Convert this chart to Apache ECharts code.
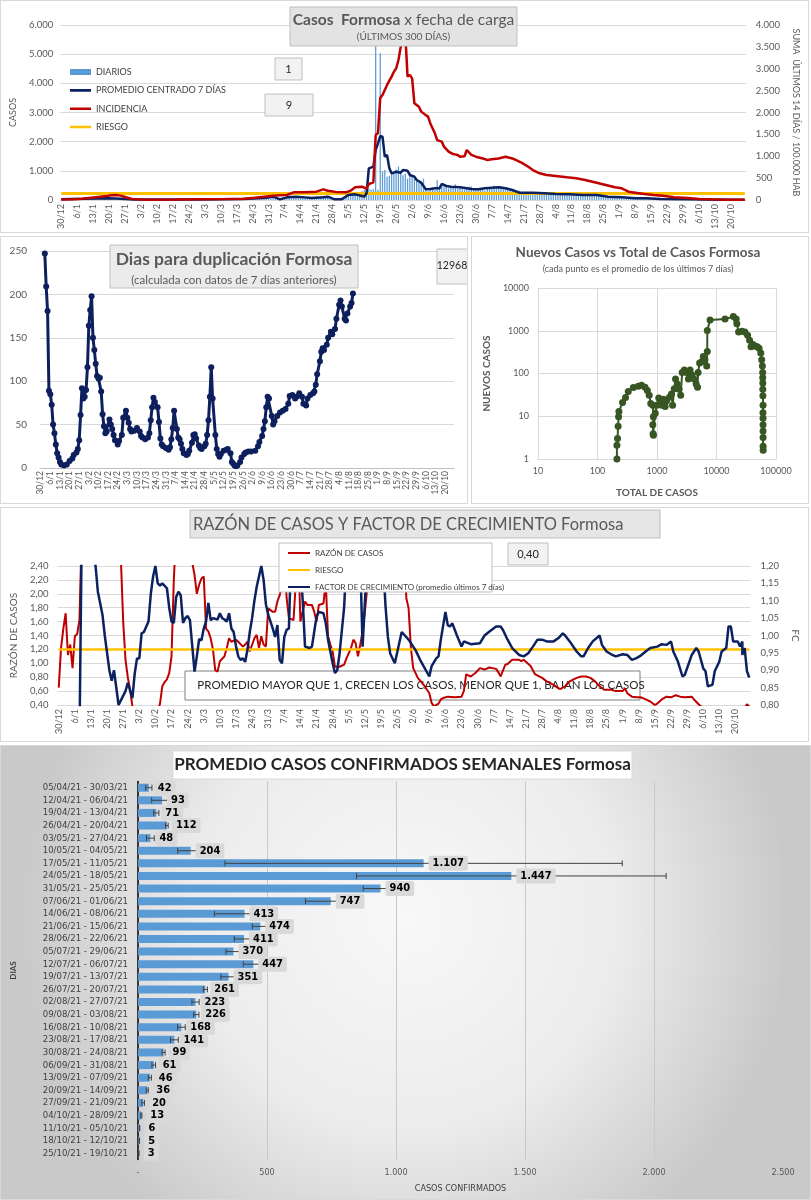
<!DOCTYPE html>
<html><head><meta charset="utf-8">
<script src="https://cdn.jsdelivr.net/npm/echarts@6/dist/echarts.min.js"></script>
<style>
html,body{margin:0;padding:0;background:#fff;}
.p{position:absolute;box-sizing:border-box;border:1px solid #d9d9d9;background:#fff;}
</style></head><body>
<div id="c1" class="p" style="left:0;top:0;width:809px;height:233px"></div>
<div id="c2" class="p" style="left:0;top:236px;width:468px;height:268px"></div>
<div id="c3" class="p" style="left:471px;top:236px;width:338px;height:268px"></div>
<div id="c4" class="p" style="left:0;top:507px;width:809px;height:235px"></div>
<div id="c5" class="p" style="left:0;top:745px;width:811px;height:455px"></div>
<script>
// ---------- DATA ----------
// 301 daily categories 30/12/2020 .. 26/10/2021 (tick labels every 7 days)
const fechas = [];
for (let i = 0; i <= 300; i++) { const d = new Date(2020, 11, 30 + i); fechas.push(d.getDate() + '/' + (d.getMonth() + 1)); }

const diarios = [
12,18,25,20,30,28,35,40,32,38,
45,50,42,55,60,48,52,58,65,55,
62,58,50,45,40,35,30,28,25,20,
18,15,14,12,10,12,9,11,8,10,
12,9,10,14,11,8,12,10,9,13,
15,12,18,14,16,20,17,15,19,22,
20,18,24,21,19,25,23,20,26,22,
24,28,25,22,27,30,26,29,31,28,
30,34,29,33,36,31,35,38,40,37,
35,45,40,50,38,44,42,
85,100,90,110,80,95,91,
60,80,70,75,65,72,75,
100,130,95,120,110,105,124,
40,55,45,60,35,50,51,
150,180,200,230,190,260,218,
300,350,380,400,350,370,5600,
350,5030,980,1030,800,820,960,
1000,1050,1150,900,850,900,730,
950,850,780,700,640,580,730,
380,300,420,380,350,680,380,
500,450,520,400,480,430,538,
390,420,380,360,400,460,467,
390,340,380,350,410,330,390,
420,430,500,420,460,480,419,
400,380,350,330,340,320,330,
270,280,250,260,240,270,255,
230,210,240,220,200,230,230,
220,240,210,230,250,210,222,
180,170,160,175,165,160,166,
150,140,145,130,150,135,137,
110,100,95,105,90,100,93,
70,65,60,55,62,58,57,
50,48,45,44,47,43,45,
40,38,35,36,33,37,33,
25,22,20,18,21,17,17,
15,14,12,13,12,13,12,
7,6,6,5,7,5,6,
5,6,4,5,5,4,6,
3,2,4,3,3,2,4,
3];

const promedio = [[0,25],[5,35],[10,40],[15,50],[20,57],[24,55],[28,35],[32,20],[40,15],[50,15],[60,20],[70,25],[80,30],[86,57],[90,80],[93,114],[96,23],[99,91],[103,114],[107,90],[110,69],[115,91],[117,114],[120,23],[123,23],[126,171],[129,194],[132,137],[133,114],[134,229],[135,1086],[137,1143],[138,1714],[139,1943],[140,2194],[141,2171],[142,1486],[143,1543],[144,1086],[145,914],[146,937],[147,971],[149,937],[150,1029],[152,1000],[153,857],[155,800],[156,686],[158,594],[160,366],[162,377],[164,400],[166,400],[167,549],[169,480],[171,457],[175,434],[178,400],[180,377],[183,366],[186,400],[189,423],[192,434],[195,400],[198,343],[201,251],[207,251],[212,229],[217,206],[223,194],[229,171],[235,171],[240,114],[246,91],[252,57],[257,57],[263,34],[275,23],[289,11],[300,11]];

const incidencia = [[0,10],[5,15],[9,30],[13,53],[17,75],[20,90],[22,110],[24,114],[26,100],[28,70],[31,23],[35,10],[40,8],[50,10],[60,15],[70,20],[80,30],[85,50],[89,76],[93,100],[99,114],[102,175],[107,175],[112,190],[115,244],[117,213],[121,180],[125,175],[127,213],[129,290],[132,305],[134,260],[135,366],[137,404],[138,1486],[139,1530],[140,2330],[141,2400],[143,2630],[145,2820],[146,2930],[147,3010],[148,3200],[149,3500],[150,4000],[151,3810],[152,2820],[153,2860],[154,2780],[155,2210],[157,2130],[158,2020],[160,1940],[161,1905],[162,1750],[164,1525],[165,1370],[167,1335],[168,1220],[170,1105],[172,1050],[174,1030],[175,990],[177,1000],[178,1143],[180,1030],[182,990],[185,950],[187,915],[189,930],[192,950],[195,990],[198,950],[202,853],[205,760],[207,685],[210,610],[213,570],[217,550],[222,518],[226,495],[230,457],[235,396],[239,343],[243,290],[246,267],[249,190],[252,168],[256,137],[260,114],[265,91],[269,61],[275,46],[280,23],[286,15],[292,8],[300,8]];

const riesgoIncidencia = [[0,150],[300,150]];

const duplicacion = [[3,247],[4,209],[5,181],[6,89],[7,85],[8,73],[9,50],[10,40],[11,27],[12,17],[13,12],[14,7],[15,4],[17,3],[19,4],[21,8],[23,11],[24,15],[26,18],[27,22],[28,32],[29,61],[30,92],[31,80],[32,82],[33,90],[34,116],[35,164],[36,182],[37,198],[38,150],[39,136],[40,120],[41,106],[42,103],[43,104],[44,88],[45,62],[46,48],[47,40],[48,42],[50,56],[51,50],[52,45],[53,38],[54,32],[56,27],[57,31],[59,38],[60,58],[62,66],[63,58],[64,52],[65,45],[66,42],[68,43],[70,46],[72,42],[73,37],[74,35],[76,33],[78,35],[79,40],[80,55],[81,70],[82,81],[83,76],[85,70],[86,53],[87,34],[88,27],[89,25],[91,23],[93,21],[94,24],[95,33],[96,46],[97,66],[99,45],[100,35],[101,33],[102,28],[103,22],[104,17],[106,15],[107,16],[108,20],[110,29],[111,38],[112,39],[113,34],[115,26],[116,23],[117,22],[119,25],[120,28],[121,38],[122,55],[123,82],[124,116],[125,80],[127,38],[128,22],[129,16],[130,13],[131,16],[133,20],[135,21],[136,22],[138,17],[139,7],[140,5],[141,3],[142,2],[143,3],[145,7],[146,12],[148,16],[149,18],[151,19],[153,19],[156,20],[158,25],[159,30],[161,37],[162,45],[163,54],[164,70],[165,82],[166,80],[168,60],[169,50],[170,54],[172,60],[174,64],[176,66],[178,68],[180,74],[181,83],[183,84],[185,80],[186,82],[188,86],[190,82],[191,74],[193,72],[194,80],[196,84],[198,86],[199,88],[200,96],[201,108],[203,123],[204,134],[205,138],[206,136],[208,142],[209,150],[211,157],[212,154],[214,160],[215,172],[217,188],[218,193],[219,186],[221,172],[222,170],[223,178],[225,186],[226,190],[227,201]];

// [total de casos, nuevos casos]
const nuevosVsTotal = [[212,1],[212,2.1],[217,3],[222,5.8],[226,9.8],[229,13],[264,21],[296,27.5],[329,38],[400,47],[484,50],[550,53],[630,48],[688,40],[740,31],[785,20],[850,18],[870,9.8],[850,6.3],[860,3.9],[870,3.6],[935,11.7],[985,18],[1070,26.6],[1120,20],[1200,18],[1280,25],[1370,17],[1450,23],[1620,28],[1750,33],[1830,18],[1950,44],[2050,74],[2200,57],[2350,43],[2500,31],[2650,105],[2880,120],[3150,105],[3370,74],[3600,120],[3850,92],[4200,74],[4550,57],[4800,48],[4900,105],[5200,177],[5700,190],[6000,250],[6400,210],[6850,150],[7000,327],[7000,1020],[7800,1790],[13900,1880],[19200,2140],[21400,1880],[22000,1450],[23500,935],[26800,970],[30000,935],[33300,780],[36000,600],[38000,424],[40800,475],[44500,440],[48500,424],[52000,390],[55500,300],[57500,210],[59000,150],[59700,105],[59800,80],[60000,60],[60000,43],[60200,30],[60600,18],[60400,12],[60500,9],[60600,6.3],[60600,4.5],[60600,3.2],[60700,2.0],[60800,1.6]];

const razonCasos = [[0,0.65],[1,1.22],[2,1.5],[3,1.72],[4,1.12],[5,1.27],[6,0.93],[7,1.39],[8,1.42],[9,1.62],[10,2.9],[14,3.8],[20,4.2],[26,3.1],[27,2.5],[28,1.6],[29,1.05],[30,0.8],[31,0.62],[32,0.38],[34,0.2],[40,0.1],[43,0.3],[44,0.42],[45,0.67],[46,0.73],[47,0.77],[48,0.86],[49,1.1],[50,2.2],[51,2.9],[55,3.5],[57,2.8],[58,2.45],[59,2.27],[60,2.0],[61,2.13],[62,2.22],[63,2.25],[64,1.5],[65,1.46],[66,1.36],[67,1.2],[68,0.9],[69,0.88],[70,1.03],[72,1.1],[73,1.22],[74,1.36],[75,1.31],[77,1.34],[78,1.31],[80,1.24],[81,1.27],[82,1.31],[83,1.17],[85,1.36],[86,1.41],[87,1.22],[88,1.39],[89,1.27],[90,1.24],[91,1.79],[93,1.74],[94,1.74],[95,1.89],[96,1.98],[97,2.13],[98,2.6],[99,1.94],[100,1.65],[102,1.62],[103,2.17],[104,2.7],[105,1.6],[107,1.89],[108,1.84],[110,1.84],[111,1.74],[112,1.6],[113,1.84],[115,1.86],[116,2.17],[117,1.39],[118,1.27],[119,1.17],[120,0.95],[122,0.95],[124,0.98],[125,1.07],[127,1.22],[128,1.34],[129,1.29],[130,1.1],[131,1.27],[132,1.46],[133,1.74],[134,2.08],[135,2.6],[138,3.5],[145,4.0],[150,2.8],[151,1.94],[152,1.79],[153,1.22],[154,0.93],[156,0.79],[159,0.67],[161,0.57],[162,0.43],[163,0.38],[165,0.42],[166,0.48],[167,0.5],[169,0.52],[172,0.51],[175,0.52],[176,0.6],[177,0.84],[179,0.81],[181,0.86],[183,0.93],[185,0.91],[187,0.94],[190,0.92],[191,0.87],[192,0.81],[194,0.98],[195,0.99],[197,1.05],[200,1.05],[201,1.03],[202,1.05],[205,0.96],[207,0.84],[210,0.79],[212,0.74],[215,0.69],[217,0.64],[218,0.63],[220,0.67],[222,0.74],[225,0.79],[227,0.81],[229,0.81],[231,0.79],[233,0.74],[235,0.67],[237,0.62],[240,0.62],[242,0.6],[245,0.6],[246,0.64],[247,0.57],[249,0.52],[251,0.51],[253,0.51],[255,0.48],[257,0.45],[259,0.4],[260,0.42],[262,0.48],[264,0.52],[266,0.51],[268,0.54],[270,0.52],[272,0.51],[275,0.52],[276,0.48],[278,0.41],[279,0.38],[285,0.25],[292,0.2],[297,0.3],[299,0.41],[300,0.38]];

const riesgoRazon = [[0,1.2],[300,1.2]];

const factorCrecimiento = [[9,0.7],[10,1.3],[13,1.35],[16,1.2],[17,1.126],[19,1.06],[20,1.0],[21,0.95],[22,0.9],[23,0.87],[24,0.9],[26,0.8],[29,0.84],[30,0.864],[32,0.82],[33,0.89],[34,0.934],[35,0.934],[36,1.006],[37,1.01],[39,1.04],[40,1.12],[41,1.17],[42,1.2],[43,1.15],[44,1.144],[45,1.15],[47,1.136],[48,1.08],[49,1.04],[50,1.036],[51,1.11],[52,1.126],[53,1.116],[54,1.036],[55,1.05],[56,1.056],[57,1.044],[58,0.97],[59,0.896],[60,0.94],[61,0.99],[62,0.986],[63,1.02],[64,1.04],[65,1.094],[66,1.044],[67,1.05],[69,1.046],[70,1.064],[71,1.05],[72,1.046],[73,1.04],[74,1.064],[75,1.02],[76,1.01],[77,0.97],[78,0.94],[79,0.93],[80,0.934],[81,0.924],[82,0.96],[83,1.01],[84,1.05],[85,1.1],[86,1.14],[87,1.17],[88,1.2],[89,1.16],[90,1.09],[91,1.06],[92,1.04],[93,1.02],[94,0.996],[95,1.03],[96,0.93],[97,0.92],[98,0.996],[99,1.016],[100,1.02],[101,1.25],[104,1.3],[106,1.1],[107,0.968],[109,0.964],[110,0.968],[112,1.054],[113,1.068],[115,1.064],[116,1.036],[117,0.988],[119,0.92],[120,0.892],[121,0.9],[122,0.948],[124,1.082],[125,1.22],[128,1.3],[131,1.22],[132,0.968],[134,1.22],[138,1.3],[141,1.2],[142,1.082],[143,0.996],[144,0.948],[146,0.92],[149,1.01],[152,0.988],[155,0.958],[157,0.93],[161,0.882],[162,0.912],[164,0.934],[165,0.94],[166,0.988],[168,1.068],[169,1.03],[170,1.026],[171,1.035],[173,1.0],[175,0.968],[176,0.983],[179,0.975],[183,0.978],[185,1.0],[187,1.011],[190,1.026],[192,1.026],[193,1.016],[195,0.988],[197,0.964],[200,0.944],[202,0.94],[204,0.949],[206,0.968],[208,0.988],[210,0.988],[212,0.983],[215,0.983],[217,0.992],[219,1.006],[220,1.0],[222,0.983],[225,0.954],[227,0.94],[228,0.94],[230,0.964],[232,0.983],[235,1.0],[236,0.973],[238,0.954],[240,0.946],[242,0.94],[245,0.946],[247,0.944],[249,0.93],[251,0.935],[253,0.943],[255,0.954],[257,0.964],[260,0.968],[262,0.975],[264,0.973],[266,0.983],[267,0.954],[269,0.925],[271,0.882],[272,0.887],[274,0.925],[275,0.944],[277,0.964],[278,0.954],[280,0.906],[281,0.897],[282,0.854],[284,0.858],[285,0.897],[287,0.925],[288,0.954],[290,0.964],[291,1.026],[292,1.026],[293,0.983],[295,0.983],[296,0.968],[297,0.983],[297,0.944],[298,0.964],[299,0.897],[300,0.879]];

const semanas = ['05/04/21 - 30/03/21','12/04/21 - 06/04/21','19/04/21 - 13/04/21','26/04/21 - 20/04/21','03/05/21 - 27/04/21','10/05/21 - 04/05/21','17/05/21 - 11/05/21','24/05/21 - 18/05/21','31/05/21 - 25/05/21','07/06/21 - 01/06/21','14/06/21 - 08/06/21','21/06/21 - 15/06/21','28/06/21 - 22/06/21','05/07/21 - 29/06/21','12/07/21 - 06/07/21','19/07/21 - 13/07/21','26/07/21 - 20/07/21','02/08/21 - 27/07/21','09/08/21 - 03/08/21','16/08/21 - 10/08/21','23/08/21 - 17/08/21','30/08/21 - 24/08/21','06/09/21 - 31/08/21','13/09/21 - 07/09/21','20/09/21 - 14/09/21','27/09/21 - 21/09/21','04/10/21 - 28/09/21','11/10/21 - 05/10/21','18/10/21 - 12/10/21','25/10/21 - 19/10/21'];
const promediosSemanales = [42,93,71,112,48,204,1107,1447,940,747,413,474,411,370,447,351,261,223,226,168,141,99,61,46,36,20,13,6,5,3];
const erroresSemanales = [12,40,10,5,15,50,770,600,67,98,117,31,38,29,39,30,8,14,10,15,15,6,7,6,4,5,2,1,1,1];

// ---------- HELPERS ----------
const FONT = 'Lato, "Noto Sans", sans-serif';
const NARROW = '"Liberation Sans Narrow","DejaVu Sans Condensed",Roboto,Lato,sans-serif';
function fmtK(v){ return String(v).replace(/\B(?=(\d{3})+(?!\d))/g,'.'); }
function fmtC2(v){ return (Math.round(v*100)/100).toFixed(2).replace('.',','); }
function rect(x,y,w,h,fill,stroke,z){ return {type:'rect',silent:true,z:z==null?10:z,shape:{x:x,y:y,width:w,height:h},style:{fill:fill,stroke:stroke||'#bfbfbf',lineWidth:1}}; }
function text(x,y,t,size,weight,color,z,align,rich){
  return {type:'text',silent:true,z:z==null?11:z,x:x,y:y,style:{text:t,fontSize:size,fontWeight:weight||'normal',fontFamily:FONT,fill:color||'#595959',
    align:align||'center',verticalAlign:'middle',textAlign:align||'center',textVerticalAlign:'middle',rich:rich}};
}
// legend icons: thin line inside a box (tiny corner dots keep the bounding box)
const LINE_ICON_7 = 'path://M0,0h0.05v0.05h-0.05z M0,2.3h21v2.6h-21z M20.95,6.95h0.05v0.05h-0.05z';
const LINE_ICON_6 = 'path://M0,0h0.05v0.05h-0.05z M0,1.9h22v2.2h-22z M21.95,5.95h0.05v0.05h-0.05z';
const GRID = '#d9d9d9', LBL = '#595959';
const dateAxis = {type:'category',data:fechas,boundaryGap:true,axisTick:{show:false},axisLine:{lineStyle:{color:GRID}},
  axisLabel:{interval:6,rotate:90,fontSize:9,color:LBL,margin:4,fontFamily:FONT}};

// ---------- CHART 1 ----------
const c1 = echarts.init(document.getElementById('c1'));
c1.setOption({
  animation:false, textStyle:{fontFamily:FONT},
  grid:{left:57,right:48,top:24,bottom:32},
  legend:{orient:'vertical',left:64,top:60,itemWidth:21,itemHeight:7,itemGap:6.3,z:20,
    textStyle:{fontSize:9,color:'#404040',lineHeight:12},
    data:[{name:'DIARIOS',icon:'path://M0,0.5h21v6h-21z'},{name:'PROMEDIO CENTRADO 7 DÍAS',icon:LINE_ICON_7},{name:'INCIDENCIA',icon:LINE_ICON_7},{name:'RIESGO',icon:LINE_ICON_7}]},
  xAxis:dateAxis,
  yAxis:[
    {type:'value',min:0,max:6000,interval:1000,name:'CASOS',nameLocation:'middle',nameGap:41,
     nameTextStyle:{fontSize:9,color:LBL},axisLabel:{fontSize:9.5,color:LBL,formatter:fmtK,margin:7},
     splitLine:{lineStyle:{color:GRID}},axisLine:{show:false},axisTick:{show:false}},
    {type:'value',min:0,max:4000,interval:500,position:'right',name:'SUMA  ÚLTIMOS 14 DÍAS / 100.000 HAB',nameLocation:'middle',nameGap:40,nameRotate:-90,
     nameTextStyle:{fontSize:9,color:LBL},axisLabel:{fontSize:9.5,color:LBL,formatter:fmtK,margin:10},
     splitLine:{show:false},axisLine:{show:false},axisTick:{show:false}}
  ],
  series:[
    {name:'DIARIOS',type:'bar',data:diarios,yAxisIndex:0,barWidth:'55%',itemStyle:{color:'#5B9BD5'}},
    {name:'RIESGO',type:'line',data:riesgoIncidencia,yAxisIndex:1,symbol:'none',lineStyle:{color:'#FFC000',width:3},itemStyle:{color:'#FFC000'}},
    {name:'PROMEDIO CENTRADO 7 DÍAS',type:'line',data:promedio,yAxisIndex:0,symbol:'none',lineStyle:{color:'#0B2160',width:2.5},itemStyle:{color:'#0B2160'}},
    {name:'INCIDENCIA',type:'line',data:incidencia,yAxisIndex:1,symbol:'none',lineStyle:{color:'#C00000',width:2.5},itemStyle:{color:'#C00000'}}
  ],
  graphic:[
    rect(289,6,227,39,'#e3e3e3'),
    text(402.5,19,'{b|Casos  Formosa} {n|x fecha de carga}',15.5,'normal','#595959',11,'center',
      {b:{fontSize:15.5,fontWeight:'bold',fill:'#595959',fontFamily:FONT},n:{fontSize:15.5,fill:'#595959',fontFamily:FONT}}),
    text(402.5,35.5,'(ÚLTIMOS 300 DÍAS)',10,'normal','#595959'),
    rect(274,57,27,22,'#f2f2f2'), text(287.5,68,'1',11,'normal','#262626'),
    rect(264,93,48,22,'#f2f2f2'), text(288,104,'9',11,'normal','#262626')
  ]
});

// ---------- CHART 2 ----------
const c2 = echarts.init(document.getElementById('c2'));
c2.setOption({
  animation:false, textStyle:{fontFamily:FONT},
  grid:{left:39,right:13,top:14,bottom:35},
  xAxis:Object.assign({},dateAxis,{axisLine:{lineStyle:{color:'#bfbfbf'}},axisLabel:{interval:6,rotate:90,fontSize:8.5,color:LBL,margin:3,fontFamily:FONT}}),
  yAxis:{type:'value',min:0,max:250,interval:50,axisLabel:{fontSize:10,color:LBL,margin:13},splitLine:{lineStyle:{color:GRID}},axisLine:{show:false},axisTick:{show:false}},
  series:[{type:'line',data:duplicacion,symbol:'circle',symbolSize:6,showAllSymbol:true,lineStyle:{color:'#0D1F5C',width:3},itemStyle:{color:'#0D1F5C'}}],
  graphic:[
    rect(109,8,248,43,'#ebebeb'),
    text(233,22,'Dias para duplicación Formosa',17.5,'bold','#595959'),
    text(233,43,'(calculada con datos de 7 días anteriores)',11.5,'normal','#595959'),
    rect(436,12,40,35,'#f2f2f2'), text(451,29,'12968',10.5,'normal','#262626')
  ]
});

// ---------- CHART 3 ----------
const c3 = echarts.init(document.getElementById('c3'));
const logFmt = v => String(Math.round(v));
c3.setOption({
  animation:false, textStyle:{fontFamily:FONT},
  grid:{left:66,right:32,top:51,bottom:40},
  xAxis:{type:'log',logBase:10,min:10,max:100000,name:'TOTAL DE CASOS',nameLocation:'middle',nameGap:29,
    nameTextStyle:{fontSize:10,fontWeight:'bold',color:LBL},axisLabel:{fontSize:9,color:LBL,formatter:logFmt,margin:8},
    splitLine:{show:true,lineStyle:{color:GRID}},axisLine:{lineStyle:{color:GRID}},axisTick:{show:false},minorTick:{show:false}},
  yAxis:{type:'log',logBase:10,min:1,max:10000,name:'NUEVOS CASOS',nameLocation:'middle',nameGap:38,
    nameTextStyle:{fontSize:10,fontWeight:'bold',color:LBL},axisLabel:{fontSize:9,color:LBL,formatter:logFmt,margin:9},
    splitLine:{show:true,lineStyle:{color:GRID}},axisLine:{show:false},axisTick:{show:false}},
  series:[{type:'line',data:nuevosVsTotal,symbol:'circle',symbolSize:7,showAllSymbol:true,lineStyle:{color:'#375623',width:2},itemStyle:{color:'#375623'}}],
  graphic:[
    text(166,16,'Nuevos Casos vs Total de Casos Formosa',13.5,'bold','#595959'),
    text(166,32,'(cada punto es el promedio de los últimos 7 días)',9,'normal','#595959')
  ]
});

// ---------- CHART 4 ----------
const c4 = echarts.init(document.getElementById('c4'));
c4.setOption({
  animation:false, textStyle:{fontFamily:FONT},
  grid:{left:56,right:48,top:58,bottom:36},
  legend:{orient:'vertical',left:282,top:35,itemWidth:22,itemHeight:6,itemGap:7,z:20,
    textStyle:{fontSize:8,color:'#404040',lineHeight:10},
    data:[{name:'RAZÓN DE CASOS',icon:LINE_ICON_6},{name:'RIESGO',icon:LINE_ICON_6},{name:'FACTOR DE CRECIMIENTO (promedio últimos 7 días)',icon:LINE_ICON_6}]},
  xAxis:dateAxis,
  yAxis:[
    {type:'value',min:0.4,max:2.4,interval:0.2,name:'RAZÓN DE CASOS',nameLocation:'middle',nameGap:38,
     nameTextStyle:{fontSize:10,color:LBL},axisLabel:{fontSize:9.5,color:LBL,formatter:fmtC2,margin:9},
     splitLine:{lineStyle:{color:GRID}},axisLine:{show:false},axisTick:{show:false}},
    {type:'value',min:0.8,max:1.2,interval:0.05,position:'right',name:'FC',nameLocation:'middle',nameGap:37,nameRotate:-90,
     nameTextStyle:{fontSize:10,color:LBL},axisLabel:{fontSize:9.5,color:LBL,formatter:fmtC2,margin:10},
     splitLine:{show:false},axisLine:{show:false},axisTick:{show:false}}
  ],
  series:[
    {name:'RAZÓN DE CASOS',type:'line',data:razonCasos,yAxisIndex:0,symbol:'none',lineStyle:{color:'#C00000',width:2},itemStyle:{color:'#C00000'}},
    {name:'RIESGO',type:'line',data:riesgoRazon,yAxisIndex:0,symbol:'none',lineStyle:{color:'#FFC000',width:2.5},itemStyle:{color:'#FFC000'}},
    {name:'FACTOR DE CRECIMIENTO (promedio últimos 7 días)',type:'line',data:factorCrecimiento,yAxisIndex:1,symbol:'none',lineStyle:{color:'#0B2160',width:2.5},itemStyle:{color:'#0B2160'}}
  ],
  graphic:[
    rect(189,2,470,28,'#e7e6e6'),
    text(192,17,'RAZÓN DE CASOS Y FACTOR DE CRECIMIENTO Formosa',16.5,'normal','#595959',11,'left'),
    rect(278,35,213,49,'#ffffff','#bfbfbf',10),
    rect(507,35,40,22,'#f2f2f2'), text(527,46,'0,40',11,'normal','#262626'),
    rect(184,163,455,29,'#ffffff','#7f7f7f',1),
    text(420,177,'PROMEDIO MAYOR QUE 1, CRECEN LOS CASOS, MENOR QUE 1, BAJAN LOS CASOS',11.5,'normal','#262626',1)
  ]
});

// ---------- CHART 5 ----------
const c5 = echarts.init(document.getElementById('c5'));
const errData = promediosSemanales.map((v,i)=>[i,v,erroresSemanales[i]]);
c5.setOption({
  animation:false, textStyle:{fontFamily:FONT},
  backgroundColor:{type:'radial',x:0.5,y:0.38,r:0.85,colorStops:[{offset:0,color:'#f8f8f8'},{offset:0.55,color:'#ececec'},{offset:1,color:'#c9c9c9'}]},
  grid:{left:132,right:27,top:35.4,bottom:39.4},
  xAxis:{type:'value',min:0,max:2500,interval:500,name:'CASOS CONFIRMADOS',nameLocation:'middle',nameGap:25,
    nameTextStyle:{fontSize:9,color:'#404040',fontFamily:NARROW},
    axisLabel:{fontSize:9,color:LBL,margin:9,fontFamily:NARROW,formatter:v=>v===0?'-':fmtK(v)},
    splitLine:{lineStyle:{color:'#c8c8c8'}},axisLine:{show:false},axisTick:{show:false}},
  yAxis:{type:'category',data:semanas,inverse:true,axisTick:{show:false},axisLine:{lineStyle:{color:'#000',width:1.5}},
    axisLabel:{interval:0,fontSize:9.5,color:'#404040',margin:10,fontFamily:NARROW},
    name:'DIAS',nameLocation:'middle',nameGap:121,nameRotate:90,nameTextStyle:{fontSize:8,fontWeight:'bold',color:'#404040'}},
  series:[
    {type:'bar',data:promediosSemanales,barWidth:8,itemStyle:{color:'#5B9BD5'},z:1},
    {type:'custom',data:errData,encode:{x:1,y:0},z:2,renderItem:function(params,api){
      const i=api.value(0), v=api.value(1), e=api.value(2);
      const a=api.coord([Math.max(0,v-e),i]), b=api.coord([v+e,i]);
      const st={stroke:'#404040',lineWidth:1};
      return {type:'group',children:[
        {type:'line',shape:{x1:a[0],y1:a[1],x2:b[0],y2:b[1]},style:st},
        {type:'line',shape:{x1:a[0],y1:a[1]-3,x2:a[0],y2:a[1]+3},style:st},
        {type:'line',shape:{x1:b[0],y1:b[1]-3,x2:b[0],y2:b[1]+3},style:st}]};
    }},
    {type:'bar',data:promediosSemanales,barWidth:8,barGap:'-100%',itemStyle:{color:'rgba(0,0,0,0)'},z:3,
      label:{show:true,position:'right',distance:5,formatter:p=>fmtK(p.value),fontSize:11,fontWeight:'bold',color:'#000',
        fontFamily:NARROW,backgroundColor:'#d9d9d9',padding:[2,4],borderRadius:2}}
  ],
  graphic:[
    rect(172,5,459,28,'#ffffff','#d9d9d9'),
    text(401.5,19,'PROMEDIO CASOS CONFIRMADOS SEMANALES Formosa',17,'bold','#262626')
  ]
});
</script>
</body></html>
